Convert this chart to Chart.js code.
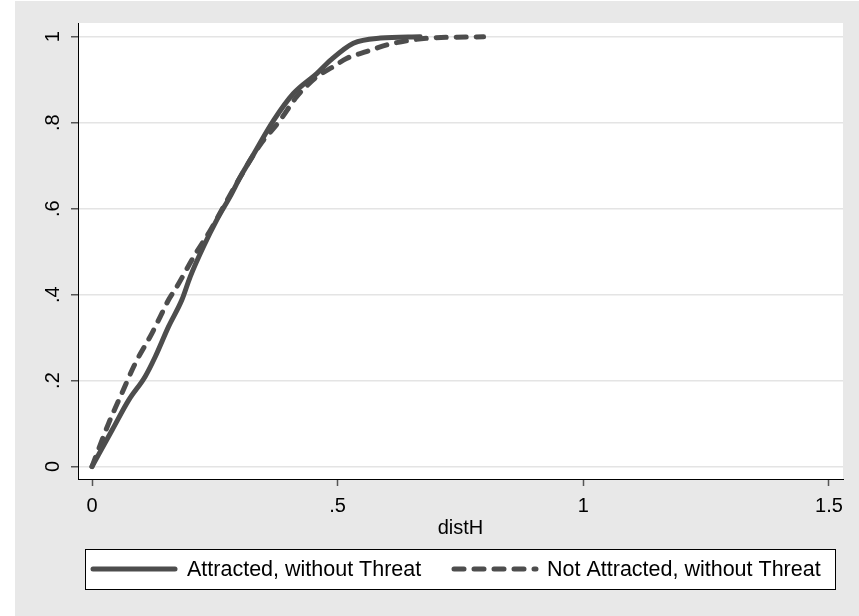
<!DOCTYPE html>
<html>
<head>
<meta charset="utf-8">
<script src="https://cdn.jsdelivr.net/npm/chart.js@4"></script>
<style>
body { margin: 0; background: #fff; }
</style>
</head>
<body>
<canvas id="cdfChart" width="859" height="616"></canvas>
<script>
var attractedX = [0, 0.041, 0.075, 0.108, 0.129, 0.156, 0.183, 0.200, 0.227, 0.254, 0.281, 0.302, 0.322, 0.370, 0.410, 0.458, 0.485, 0.532, 0.587, 0.668];
var attractedY = [0, 0.085, 0.155, 0.209, 0.256, 0.326, 0.388, 0.442, 0.512, 0.574, 0.628, 0.674, 0.713, 0.806, 0.868, 0.915, 0.945, 0.985, 0.997, 1.0];
var notAttractedX = [0, 0.034, 0.061, 0.088, 0.122, 0.139, 0.156, 0.173, 0.207, 0.241, 0.268, 0.300, 0.340, 0.383, 0.417, 0.458, 0.492, 0.519, 0.560, 0.600, 0.648, 0.689, 0.797];
var notAttractedY = [0, 0.101, 0.171, 0.240, 0.310, 0.349, 0.388, 0.419, 0.488, 0.550, 0.605, 0.670, 0.745, 0.806, 0.861, 0.907, 0.931, 0.950, 0.966, 0.981, 0.992, 0.997, 1.0];
var seriesLabels = ["Attracted, without Threat", "Not Attracted, without Threat"];
var xTicks = [0, 0.5, 1, 1.5];
var yTicks = [0, 0.2, 0.4, 0.6, 0.8, 1];

var FONT = "'Liberation Sans', Arial, sans-serif";
var LINE = "#4d4d4d";

function toPoints(xs, ys) {
    var pts = [];
    for (var i = 0; i < xs.length; i++) pts.push({x: xs[i], y: ys[i]});
    return pts;
}

// stata style: .5 instead of 0.5
function stataLabel(v) {
    var s = String(Math.round(v * 10) / 10);
    return s.replace(/^0\./, ".");
}

var background = {
    id: "background",
    beforeDraw: function (chart) {
        var ctx = chart.ctx, a = chart.chartArea;
        // rotated y labels: center them on their tick
        chart.scales.y.getLabelItems().forEach(function (item) {
            item.options.textAlign = "center";
        });
        ctx.save();
        ctx.fillStyle = "#fff";
        ctx.fillRect(0, 0, chart.width, chart.height);
        ctx.fillStyle = "#e8e8e8";
        ctx.fillRect(15, 1, chart.width - 15, chart.height - 1);
        ctx.fillStyle = "#fff";
        ctx.fillRect(a.left, a.top, a.right - a.left, a.bottom - a.top);
        ctx.restore();
    }
};

var boxLegend = {
    id: "boxLegend",
    afterDraw: function (chart) {
        var ctx = chart.ctx;
        var ds = chart.data.datasets;
        var y = 569;
        var items = [{x0: 93, x1: 175, tx: 187}, {x0: 454, x1: 536, tx: 547}];
        ctx.save();
        ctx.fillStyle = "#fff";
        ctx.fillRect(85.5, 549.5, 750, 40);
        ctx.strokeStyle = "#000";
        ctx.lineWidth = 1;
        ctx.strokeRect(85.5, 549.5, 750, 40);
        for (var i = 0; i < items.length; i++) {
            ctx.beginPath();
            ctx.strokeStyle = ds[i].borderColor;
            ctx.lineWidth = ds[i].borderWidth;
            ctx.lineCap = "round";
            ctx.setLineDash(ds[i].borderDash || []);
            ctx.moveTo(items[i].x0, y);
            ctx.lineTo(items[i].x1, y);
            ctx.stroke();
            ctx.setLineDash([]);
            ctx.fillStyle = "#000";
            ctx.font = "21.5px " + FONT;
            ctx.textBaseline = "middle";
            ctx.fillText(ds[i].label, items[i].tx, y + 1);
        }
        ctx.restore();
    }
};

var cdfChart = new Chart(document.getElementById("cdfChart"), {
    type: "line",
    data: {
        datasets: [
            {
                label: seriesLabels[0],
                data: toPoints(attractedX, attractedY),
                borderColor: LINE,
                borderWidth: 5,
                borderCapStyle: "round",
                borderJoinStyle: "round",
                cubicInterpolationMode: "monotone",
                pointRadius: 0
            },
            {
                label: seriesLabels[1],
                data: toPoints(notAttractedX, notAttractedY),
                borderColor: LINE,
                borderWidth: 5,
                borderDash: [10, 10],
                borderCapStyle: "round",
                borderJoinStyle: "round",
                cubicInterpolationMode: "monotone",
                pointRadius: 0
            }
        ]
    },
    options: {
        responsive: false,
        animation: false,
        layout: {padding: {top: 23, right: 16, bottom: 76, left: 0}},
        plugins: {
            legend: {display: false},
            tooltip: {enabled: false}
        },
        scales: {
            x: {
                type: "linear",
                min: -0.0285,
                max: 1.5286,
                afterBuildTicks: function (scale) {
                    scale.ticks = xTicks.map(function (v) { return {value: v}; });
                },
                afterFit: function (scale) {
                    scale.height = 61;
                    scale.paddingLeft = 0;
                    scale.paddingRight = 0;
                },
                grid: {drawOnChartArea: false, tickLength: 7, tickColor: "#555", tickWidth: 1.5},
                border: {color: "#000", width: 1},
                ticks: {
                    color: "#000",
                    padding: 8,
                    maxRotation: 0,
                    font: {family: FONT, size: 20},
                    callback: stataLabel
                },
                title: {
                    display: true,
                    text: "distH",
                    color: "#000",
                    padding: {top: 0, bottom: 0},
                    font: {family: FONT, size: 20}
                }
            },
            y: {
                min: -0.029,
                max: 1.032,
                afterBuildTicks: function (scale) {
                    scale.ticks = yTicks.map(function (v) { return {value: v}; });
                },
                afterFit: function (scale) {
                    scale.width = 78;
                    scale.paddingTop = 0;
                    scale.paddingBottom = 0;
                },
                grid: {color: "#e4e4e4", lineWidth: 1.5, tickLength: 7, tickColor: "#555", tickWidth: 1.5},
                border: {color: "#000", width: 1},
                ticks: {
                    color: "#000",
                    padding: 18,
                    minRotation: 90,
                    maxRotation: 90,
                    font: {family: FONT, size: 20},
                    callback: stataLabel
                }
            }
        }
    },
    plugins: [background, boxLegend]
});
</script>
</body>
</html>
